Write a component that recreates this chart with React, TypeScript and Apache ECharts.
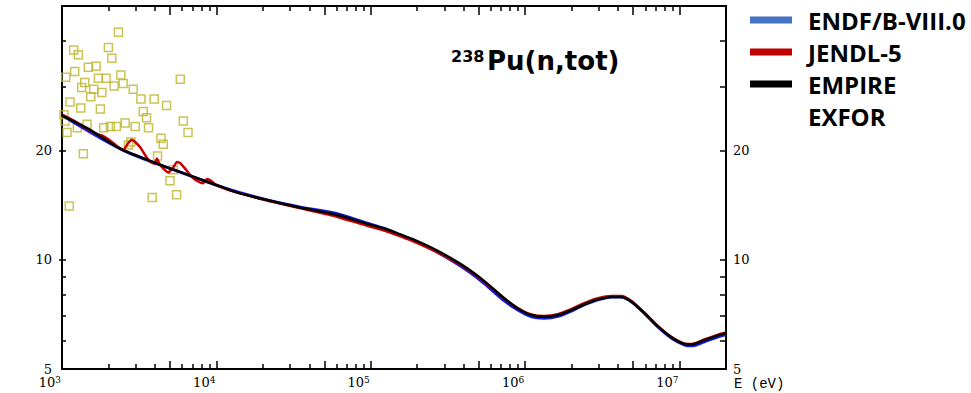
import React, { useEffect, useRef } from 'react';
import * as echarts from 'echarts';

// ---- axis ranges / ticks ----
const X_MIN = 1e3;
const X_MAX = 2e7;
const Y_MIN = 5;
const Y_MAX = 50;
const X_LABELS = [1e3, 1e4, 1e5, 1e6, 1e7];
const X_TICKS_LONG = [1e3, 5e3, 1e4, 5e4, 1e5, 5e5, 1e6, 5e6, 1e7];
const X_TICKS_SHORT = [
  2e3, 3e3, 4e3, 6e3, 7e3, 8e3, 9e3,
  2e4, 3e4, 4e4, 6e4, 7e4, 8e4, 9e4,
  2e5, 3e5, 4e5, 6e5, 7e5, 8e5, 9e5,
  2e6, 3e6, 4e6, 6e6, 7e6, 8e6, 9e6,
];
const Y_LABELS = [5, 10, 20];
const Y_TICKS = [5, 6, 7, 8, 9, 10, 20, 30, 40];
const Y_TICKS_MAJOR = [10, 20];

// ---- EMPIRE ----
const EMPIRE_E = [1000, 1185, 1520, 1950, 2500, 3210, 4120, 5285, 6780, 8700, 11150, 13000, 21300, 35100, 57800, 95000, 125000, 157000, 190000, 258000, 330000, 424000, 544000, 734000, 896000, 1.094e6, 1.335e6, 1.63e6, 1.99e6, 2.43e6, 2.96e6, 3.61e6, 4.2e6, 4.88e6, 5.95e6, 7.27e6, 8.88e6, 10.8e6, 12.0e6, 14.6e6, 17.8e6, 20e6];
const EMPIRE_XS = [25.0, 24.1, 22.8, 21.3, 20.0, 19.2, 18.4, 17.7, 17.05, 16.4, 15.8, 15.4, 14.6, 13.9, 13.35, 12.55, 12.15, 11.72, 11.36, 10.7, 10.1, 9.45, 8.73, 7.82, 7.34, 7.04, 6.96, 7.04, 7.26, 7.54, 7.77, 7.9, 7.9, 7.66, 7.11, 6.54, 6.11, 5.86, 5.84, 6.01, 6.19, 6.27];

// ---- JENDL-5 ----
const JENDL_E = [1000, 1184, 1447, 1680, 1811, 2050, 2321, 2500, 2695, 2836, 2979, 3210, 3459, 3728, 3976, 4121, 4266, 4548, 4900, 5282, 5556, 5837, 6292, 6954, 7674, 8199, 8703, 9238, 10100, 13000, 21300, 35100, 57800, 95000, 125000, 157000, 190000, 258000, 330000, 424000, 544000, 734000, 896000, 1.094e6, 1.335e6, 1.63e6, 1.99e6, 2.43e6, 2.96e6, 3.61e6, 4.2e6, 4.88e6, 5.95e6, 7.27e6, 8.88e6, 10.8e6, 12.0e6, 14.6e6, 17.8e6, 20e6];
const JENDL_XS = [25.1, 24.2, 22.95, 22.2, 22.0, 21.3, 20.4, 20.1, 21.0, 21.4, 21.1, 20.4, 19.4, 18.6, 18.4, 19.0, 18.4, 17.8, 17.4, 18.0, 18.6, 18.45, 17.8, 16.9, 16.4, 16.25, 16.7, 16.5, 16.0, 15.4, 14.55, 13.85, 13.2, 12.4, 12.0, 11.58, 11.22, 10.58, 10.02, 9.4, 8.7, 7.82, 7.36, 7.07, 7.0, 7.08, 7.31, 7.6, 7.83, 7.95, 7.95, 7.7, 7.14, 6.56, 6.12, 5.87, 5.86, 6.04, 6.22, 6.3];

// ---- ENDF/B-VIII.0 ----
const ENDF_E = [1000, 2500, 5285, 11150, 21300, 35100, 57800, 95000, 125000, 157000, 190000, 258000, 330000, 424000, 544000, 734000, 896000, 1.094e6, 1.335e6, 1.63e6, 1.99e6, 2.43e6, 2.96e6, 3.61e6, 4.2e6, 4.88e6, 5.95e6, 7.27e6, 8.88e6, 10.8e6, 12.0e6, 14.6e6, 17.8e6, 20e6];
const ENDF_XS = [25.0, 20.0, 17.7, 15.8, 14.6, 13.95, 13.45, 12.6, 12.15, 11.68, 11.3, 10.6, 9.98, 9.32, 8.6, 7.7, 7.27, 6.97, 6.9, 6.98, 7.22, 7.52, 7.76, 7.9, 7.9, 7.66, 7.1, 6.52, 6.08, 5.82, 5.79, 5.95, 6.13, 6.22];

// ---- EXFOR ----
const EXFOR_E = [2321, 1191, 1276, 1998, 2102, 1209, 1482, 1663, 1057, 1404, 1721, 1931, 2405, 2489, 2176, 1342, 1606, 1811, 2891, 5837, 1536, 1127, 3244, 3957, 1323, 1773, 4757, 3357, 3527, 6105, 1030, 1046, 1078, 1453, 1257, 1865, 2059, 2252, 2566, 2979, 3635, 6551, 4375, 4527, 2793, 2695, 1375, 4157, 5258, 5005, 3841, 5524, 1115];
const EXFOR_XS = [42.3, 37.8, 36.7, 38.4, 35.9, 33.0, 33.9, 34.1, 31.8, 30.8, 31.6, 31.6, 32.3, 30.6, 30.1, 29.8, 29.5, 28.9, 29.5, 31.4, 28.1, 27.2, 27.7, 27.7, 26.2, 26.0, 26.6, 25.6, 24.6, 24.1, 25.1, 24.1, 22.4, 23.6, 23.1, 23.1, 23.3, 23.3, 23.8, 23.3, 23.1, 22.4, 21.6, 20.8, 21.1, 20.7, 19.6, 19.3, 17.7, 16.5, 14.85, 15.1, 14.06];

const zip = (a: number[], b: number[]) => a.map((v, i) => [v, b[i]]);

const SERIF = '"DejaVu Serif", serif';

export default function App() {
  const ref = useRef<HTMLDivElement>(null);
  useEffect(() => {
    if (!ref.current) return;
    const chart = echarts.init(ref.current, null, { renderer: 'svg' });
    const black = '#000';
    const tickStyle = { color: black, width: 1.5 };
    const baseX = { type: 'log', logBase: 10, min: X_MIN, max: X_MAX, gridIndex: 0, splitLine: { show: false } };
    const baseY = { type: 'log', logBase: 10, min: Y_MIN, max: Y_MAX, gridIndex: 0, splitLine: { show: false } };
    const option: any = {
      animation: false,
      backgroundColor: '#fff',
      grid: { left: 62, right: 245, top: 6, bottom: 24, containLabel: false },
      legend: {
        orient: 'vertical',
        left: 745,
        top: 3,
        itemWidth: 42,
        itemHeight: 7,
        itemGap: 8,
        icon: 'rect',
        selectedMode: false,
        textStyle: { fontFamily: '"Open Sans", sans-serif', fontWeight: 'bold', fontSize: 24, color: '#000', padding: [0, 0, 0, 11] },
        data: [
          { name: 'ENDF/B-VIII.0', itemStyle: { color: '#4472C4' } },
          { name: 'JENDL-5', itemStyle: { color: '#C00000' } },
          { name: 'EMPIRE', itemStyle: { color: '#000000' } },
          { name: 'EXFOR', itemStyle: { color: 'rgba(0,0,0,0)', opacity: 0, borderWidth: 0 } },
        ],
      },
      graphic: [
        { type: 'text', x: 451, y: 56, style: { text: '238', font: 'bold 16px "DejaVu Sans"', fill: '#000', textVerticalAlign: 'middle' } },
        { type: 'text', x: 487, y: 61, style: { text: 'Pu(n,tot)', font: 'bold 26px "DejaVu Sans"', fill: '#000', textVerticalAlign: 'middle' } },
      ],
      xAxis: [
        {
          ...baseX,
          position: 'bottom',
          axisLine: { show: true, lineStyle: { color: black, width: 2 } },
          axisTick: { show: true, inside: true, length: 8, customValues: X_TICKS_LONG, lineStyle: tickStyle },
          axisLabel: {
            show: true,
            customValues: X_LABELS,
            align: 'right',
            margin: 6,
            padding: [0, 1, 0, 0],
            formatter: (v: number) => `{b|10}{s|${Math.round(Math.log10(v))}}`,
            rich: {
              b: { fontFamily: SERIF, fontSize: 13, lineHeight: 14, color: '#000', verticalAlign: 'bottom' },
              s: { fontFamily: SERIF, fontSize: 9, lineHeight: 9, color: '#000', verticalAlign: 'top' },
            },
          },
          name: 'E (eV)',
          nameLocation: 'end',
          nameGap: 8,
          nameMoveOverlap: false,
          nameTextStyle: { fontFamily: '"Liberation Mono", monospace', fontSize: 14, lineHeight: 14, color: '#000', verticalAlign: 'top', padding: [8, 0, 0, 0] },
        },
        {
          ...baseX,
          position: 'bottom',
          axisLine: { show: false },
          axisTick: { show: true, inside: true, length: 5, customValues: X_TICKS_SHORT, lineStyle: tickStyle },
          axisLabel: { show: false },
        },
        {
          ...baseX,
          position: 'top',
          axisLine: { show: true, lineStyle: { color: black, width: 2 } },
          axisTick: { show: true, inside: true, length: 9, customValues: X_TICKS_LONG, lineStyle: tickStyle },
          axisLabel: { show: false },
        },
        {
          ...baseX,
          position: 'top',
          axisLine: { show: false },
          axisTick: { show: true, inside: true, length: 5, customValues: X_TICKS_SHORT, lineStyle: tickStyle },
          axisLabel: { show: false },
        },
      ],
      yAxis: [
        {
          ...baseY,
          position: 'left',
          axisLine: { show: true, lineStyle: { color: black, width: 2 } },
          axisTick: { show: true, inside: true, length: 4, customValues: Y_TICKS, lineStyle: tickStyle },
          axisLabel: { show: true, customValues: Y_LABELS, margin: 10, fontFamily: SERIF, fontSize: 13, color: '#000', formatter: (v: number) => String(Math.round(v)) },
        },
        {
          ...baseY,
          position: 'left',
          axisLine: { show: false },
          axisTick: { show: true, inside: false, length: 3, customValues: Y_TICKS_MAJOR, lineStyle: tickStyle },
          axisLabel: { show: false },
        },
        {
          ...baseY,
          position: 'right',
          axisLine: { show: true, lineStyle: { color: black, width: 2 } },
          axisTick: { show: true, inside: true, length: 6, customValues: Y_TICKS, lineStyle: tickStyle },
          axisLabel: { show: true, customValues: Y_LABELS, margin: 7, fontFamily: SERIF, fontSize: 13, lineHeight: 12, color: '#000', formatter: (v: number) => String(Math.round(v)) },
        },
      ],
      series: [
        {
          name: 'EXFOR',
          type: 'scatter',
          xAxisIndex: 0,
          yAxisIndex: 0,
          symbol: 'rect',
          symbolSize: 8,
          itemStyle: { color: 'rgba(0,0,0,0)', borderColor: '#BDB42A', borderWidth: 1.5 },
          data: zip(EXFOR_E, EXFOR_XS),
          z: 1,
        },
        {
          name: 'ENDF/B-VIII.0',
          type: 'line',
          xAxisIndex: 0,
          yAxisIndex: 0,
          showSymbol: false,
          smooth: 0.3,
          lineStyle: { color: '#1818D8', width: 3 },
          itemStyle: { color: '#1818D8' },
          data: zip(ENDF_E, ENDF_XS),
          z: 2,
        },
        {
          name: 'JENDL-5',
          type: 'line',
          xAxisIndex: 0,
          yAxisIndex: 0,
          showSymbol: false,
          smooth: 0.2,
          lineStyle: { color: '#C40000', width: 2.5 },
          itemStyle: { color: '#C40000' },
          data: zip(JENDL_E, JENDL_XS),
          z: 3,
        },
        {
          name: 'EMPIRE',
          type: 'line',
          xAxisIndex: 0,
          yAxisIndex: 0,
          showSymbol: false,
          smooth: 0.3,
          lineStyle: { color: '#000', width: 2.5 },
          itemStyle: { color: '#000' },
          data: zip(EMPIRE_E, EMPIRE_XS),
          z: 4,
        },
      ],
    };
    chart.setOption(option);
    return () => chart.dispose();
  }, []);
  return (
    <div
      ref={ref}
      style={{ position: 'fixed', left: 0, top: 0, width: 971, height: 393, background: '#fff' }}
    />
  );
}
